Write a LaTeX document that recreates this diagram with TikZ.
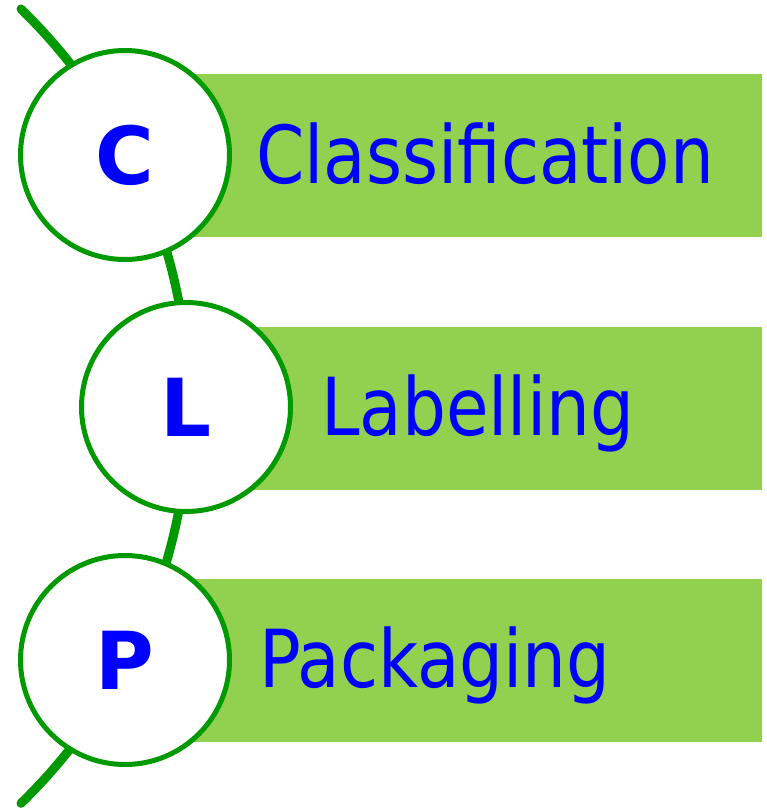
\documentclass[tikz,border=0pt]{standalone}
\usepackage{fontspec}
\setmainfont{DejaVu Sans}
\newfontfamily\narrowfont{DejaVu Sans}[FakeStretch=0.865]
\usepackage{tikz}
\definecolor{chaingreen}{RGB}{0,153,0}
\definecolor{barfill}{RGB}{146,208,80}
\tikzstyle{chainline} = [draw=chaingreen, line width=9pt, line cap=round]
\tikzstyle{bar} = [fill=barfill, inner sep=0pt, minimum height=163pt, anchor=west]
\usetikzlibrary{positioning}

\begin{document}
\begin{tikzpicture}[x=1pt, y=-1pt,
                    letter node/.style={circle,draw=chaingreen,line width=5pt,fill=white,
                      minimum size=209pt,inner sep=0pt,text=blue,
                      font=\fontsize{80}{96}\selectfont\bfseries},
                    word node/.style={anchor=base west,inner sep=0pt,text=blue,
                      font=\narrowfont\fontsize{80}{96}\selectfont}]
  \useasboundingbox (0,0) rectangle (767,808);

  % the green chain behind the circles
  \coordinate (top) at (21,9);
  \path[chainline] (top) arc[start angle=45.8, end angle=-45.8, radius=554pt] coordinate (bottom);

  \node[bar, minimum width=637pt] (b1) at (125,155.5) {};
  \node[bar, minimum width=576pt] (b2) at (186,408) {};
  \node[bar, minimum width=637pt] (b3) at (125,660.5) {};

  \node[word node] (w1) at (256,183) {Classification};
  \node[word node] (w2) at (321,435) {Labelling};
  \node[word node] (w3) at (259,687) {Packaging};

  \node[letter node] (1) at (125,155) {C};
  \node[letter node] (2) at (186,407) {L};
  \node[letter node] (3) at (125,660) {P};
\end{tikzpicture}
\end{document}
